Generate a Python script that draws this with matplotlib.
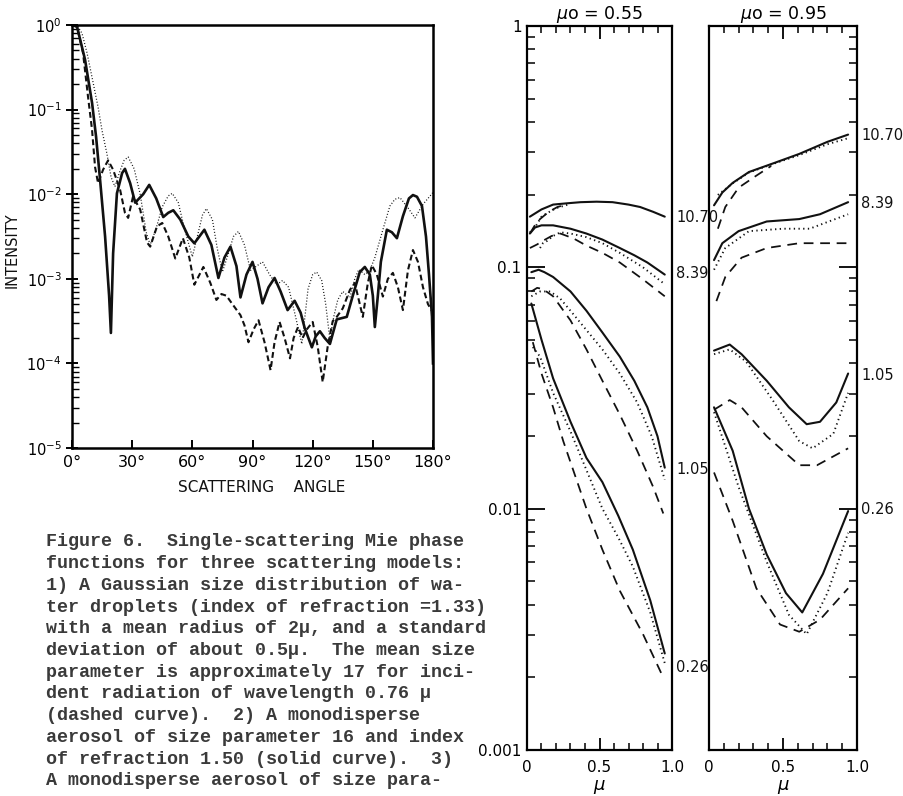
import matplotlib
matplotlib.use('Agg')
import matplotlib.pyplot as plt
from matplotlib.ticker import LogLocator, NullFormatter, FixedLocator
import numpy as np

W, H = 904, 796

# ---- left panel: phase functions (angle in deg, log10 intensity) ----
solid_pts = [(0, 0), (2.5, -0.02), (6.5, -0.41), (10, -0.92), (12, -1.32), (14, -1.83), (16.5, -2.5),
             (18.5, -3.2), (19.4, -3.64), (20.5, -2.7), (22.4, -1.99), (25, -1.75), (26.4, -1.70),
             (29, -1.87), (31.5, -2.1), (35.5, -2.0), (38.5, -1.89), (42, -2.05), (45.5, -2.27),
             (48, -2.22), (50.5, -2.19), (54, -2.3), (58, -2.5), (61, -2.58), (63.5, -2.5), (66, -2.42),
             (69.5, -2.6), (73, -2.99), (76, -2.75), (79, -2.62), (82, -2.85), (84, -3.22), (87, -2.95),
             (90, -2.8), (92.5, -3.0), (95, -3.29), (98, -3.1), (101, -2.99), (104, -3.15), (107.5, -3.37),
             (111, -3.26), (114, -3.4), (116, -3.58), (119.6, -3.81), (121.5, -3.68), (123.6, -3.62),
             (126, -3.7), (128.6, -3.77), (132, -3.48), (137, -3.45), (140, -3.2), (143.5, -2.92),
             (146, -2.86), (148.5, -2.95), (150, -3.2), (151, -3.57), (152.5, -3.2), (154, -2.8),
             (157, -2.42), (159.5, -2.45), (162, -2.52), (165, -2.26), (168, -2.05), (170, -2.01),
             (172, -2.03), (174.5, -2.14), (176.5, -2.5), (178, -2.95), (179.5, -3.45), (180, -4.0)]

dashed_pts = [(0, 0), (2.5, -0.02), (5.5, -0.33), (8, -0.85), (10, -1.24), (11.5, -1.68), (13, -1.87),
              (15.5, -1.71), (18, -1.6), (20.5, -1.71), (24, -1.95), (26.4, -2.22), (28, -2.28),
              (30.4, -2.03), (34, -2.18), (37.4, -2.57), (39, -2.62), (42.4, -2.38), (45, -2.34),
              (48, -2.5), (51.5, -2.76), (55.3, -2.52), (58.5, -2.75), (61, -3.07), (65.5, -2.86),
              (69, -3.05), (72, -3.25), (74.5, -3.18), (77, -3.2), (80, -3.3), (84, -3.43), (86, -3.55),
              (88, -3.75), (90.5, -3.6), (93, -3.49), (96, -3.75), (99, -4.08), (101, -3.75),
              (103.5, -3.51), (106, -3.7), (108.7, -3.94), (110.5, -3.7), (112.7, -3.57), (115, -3.7),
              (117, -3.6), (120, -3.51), (122.5, -3.8), (125, -4.22), (127.5, -3.8), (130, -3.5),
              (132, -3.45), (135, -3.35), (138.6, -3.13), (141, -3.05), (143, -3.25), (145, -3.45),
              (147.5, -3.05), (149.5, -2.84), (152, -2.95), (155, -3.21), (157.5, -3.0), (160, -2.93),
              (162.5, -3.1), (165, -3.37), (167.5, -2.9), (170, -2.66), (172.5, -2.8), (175, -3.1),
              (177.5, -3.3), (180, -3.4)]

dotted_pts = [(0, 0), (3, -0.02), (5, -0.1), (7.5, -0.33), (10, -0.62), (13, -0.97), (15, -1.25),
              (17.4, -1.52), (19.5, -1.8), (21.4, -1.91), (24, -1.72), (26, -1.6), (28, -1.56),
              (31, -1.7), (34, -2.0), (37, -2.45), (39, -2.6), (42, -2.4), (45, -2.15), (48, -2.02),
              (50, -1.99), (53, -2.1), (56, -2.4), (60, -2.74), (63, -2.45), (65, -2.25), (67, -2.17),
              (70, -2.3), (72.5, -2.65), (75, -2.92), (78, -2.7), (80.5, -2.5), (83, -2.44), (86, -2.6),
              (89, -2.9), (92, -2.85), (95, -2.8), (98.5, -2.95), (102, -3.07), (105, -3.02), (108, -3.1),
              (111, -3.4), (114.6, -3.77), (117.7, -3.12), (120, -2.95), (122, -2.92), (124.5, -3.02),
              (126.5, -3.3), (128.6, -3.72), (130.5, -3.45), (132.5, -3.25), (135, -3.15),
              (138.6, -3.22), (141, -3.0), (143, -2.89), (146, -2.95), (148.5, -2.9), (151, -2.75),
              (155, -2.42), (158.5, -2.14), (161, -2.06), (163.5, -2.04), (167.5, -2.16), (171, -2.28),
              (175, -2.12), (180, -1.98)]

# ---- mu0 = 0.55 panel (mu, log10 value) ----
m1070_solid = [(0.02, -0.79), (0.1, -0.76), (0.18, -0.74), (0.27, -0.735), (0.37, -0.73), (0.48, -0.728),
               (0.59, -0.73), (0.7, -0.74), (0.78, -0.75), (0.87, -0.77), (0.95, -0.79)]
m1070_dotted = [(0.02, -0.855), (0.06, -0.83), (0.1, -0.79), (0.14, -0.775), (0.2, -0.755), (0.3, -0.737)]
m1070_dashed = [(0.02, -0.86), (0.06, -0.82), (0.09, -0.80), (0.15, -0.77), (0.21, -0.75), (0.27, -0.74)]

m839_solid = [(0.02, -0.86), (0.055, -0.835), (0.1, -0.826), (0.18, -0.826), (0.3, -0.84), (0.41, -0.86),
              (0.52, -0.885), (0.64, -0.92), (0.74, -0.95), (0.83, -0.98), (0.95, -1.03)]
m839_dotted = [(0.09, -0.92), (0.11, -0.9), (0.14, -0.89), (0.18, -0.87), (0.23, -0.855), (0.3, -0.86),
               (0.41, -0.875), (0.52, -0.9), (0.64, -0.94), (0.8, -1.0), (0.95, -1.07)]
m839_dashed = [(0.02, -0.92), (0.07, -0.905), (0.11, -0.89), (0.17, -0.87), (0.23, -0.86), (0.32, -0.88),
               (0.41, -0.91), (0.52, -0.94), (0.64, -0.98), (0.8, -1.05), (0.95, -1.12)]

m105_solid = [(0.03, -1.02), (0.08, -1.01), (0.12, -1.02), (0.18, -1.04), (0.3, -1.1), (0.41, -1.18),
              (0.52, -1.27), (0.64, -1.37), (0.74, -1.47), (0.83, -1.58), (0.9, -1.7), (0.95, -1.83)]
m105_dotted = [(0.03, -1.12), (0.09, -1.10), (0.16, -1.10), (0.23, -1.13), (0.3, -1.18), (0.41, -1.26),
               (0.52, -1.34), (0.64, -1.44), (0.76, -1.56), (0.86, -1.7), (0.95, -1.88)]
m105_dashed = [(0.03, -1.10), (0.07, -1.085), (0.11, -1.09), (0.18, -1.12), (0.3, -1.22), (0.41, -1.34),
               (0.52, -1.47), (0.64, -1.61), (0.76, -1.76), (0.87, -1.91), (0.94, -2.02)]

m026_solid = [(0.03, -1.15), (0.1, -1.3), (0.18, -1.46), (0.3, -1.64), (0.41, -1.79), (0.52, -1.89),
              (0.63, -2.03), (0.73, -2.17), (0.85, -2.38), (0.95, -2.6)]
m026_dotted = [(0.04, -1.33), (0.09, -1.37), (0.18, -1.52), (0.3, -1.68), (0.41, -1.84), (0.52, -2.0),
               (0.63, -2.12), (0.73, -2.24), (0.85, -2.43), (0.95, -2.64)]
m026_dashed = [(0.04, -1.31), (0.1, -1.44), (0.18, -1.58), (0.25, -1.72), (0.41, -2.0), (0.52, -2.17),
               (0.64, -2.34), (0.8, -2.52), (0.94, -2.7)]

# ---- mu0 = 0.95 panel ----
r1070_solid = [(0.034, -0.743), (0.09, -0.69), (0.16, -0.65), (0.27, -0.605), (0.43, -0.57), (0.61, -0.53),
               (0.8, -0.48), (0.94, -0.45)]
r1070_dotted = [(0.06, -0.70), (0.16, -0.652), (0.27, -0.607), (0.43, -0.572), (0.61, -0.535), (0.8, -0.49),
                (0.94, -0.465)]
r1070_dashed = [(0.06, -0.84), (0.11, -0.75), (0.2, -0.67), (0.32, -0.62), (0.42, -0.58)]

r839_solid = [(0.034, -0.97), (0.09, -0.90), (0.2, -0.85), (0.39, -0.81), (0.61, -0.80), (0.75, -0.78),
              (0.94, -0.73)]
r839_dotted = [(0.034, -1.01), (0.11, -0.92), (0.27, -0.85), (0.5, -0.84), (0.68, -0.84), (0.94, -0.78)]
r839_dashed = [(0.05, -1.14), (0.11, -1.04), (0.22, -0.96), (0.39, -0.92), (0.61, -0.90), (0.94, -0.90)]

r105_solid = [(0.034, -1.345), (0.14, -1.32), (0.22, -1.36), (0.39, -1.47), (0.54, -1.58), (0.66, -1.65),
              (0.75, -1.64), (0.86, -1.56), (0.94, -1.44)]
r105_dotted = [(0.034, -1.36), (0.14, -1.34), (0.25, -1.39), (0.43, -1.55), (0.61, -1.72), (0.70, -1.75),
               (0.84, -1.69), (0.94, -1.52)]
r105_dashed = [(0.034, -1.59), (0.14, -1.55), (0.22, -1.58), (0.39, -1.70), (0.61, -1.82), (0.73, -1.82),
               (0.94, -1.75)]

r026_solid = [(0.034, -1.58), (0.16, -1.76), (0.27, -2.0), (0.39, -2.19), (0.52, -2.35), (0.63, -2.43),
              (0.77, -2.27), (0.94, -2.01)]
r026_dotted = [(0.034, -1.6), (0.2, -1.91), (0.39, -2.22), (0.54, -2.44), (0.66, -2.52), (0.8, -2.35),
               (0.94, -2.10)]
r026_dashed = [(0.034, -1.85), (0.16, -2.05), (0.32, -2.33), (0.48, -2.48), (0.61, -2.51), (0.75, -2.46),
               (0.94, -2.33)]

group_labels = ['10.70', '8.39', '1.05', '0.26']
mid_label_y = [218, 274, 470, 667]     # pixel rows of the side labels
right_label_y = [135, 204, 375, 510]

caption = [
    'Figure 6.  Single-scattering Mie phase',
    'functions for three scattering models:',
    '1) A Gaussian size distribution of wa-',
    'ter droplets (index of refraction =1.33)',
    'with a mean radius of 2\u00b5, and a standard',
    'deviation of about 0.5\u00b5.  The mean size',
    'parameter is approximately 17 for inci-',
    'dent radiation of wavelength 0.76 \u00b5',
    '(dashed curve).  2) A monodisperse',
    'aerosol of size parameter 16 and index',
    'of refraction 1.50 (solid curve).  3)',
    'A monodisperse aerosol of size para-',
]

INK = '#111111'
plt.rcParams['font.family'] = ['DejaVu Sans']


def box(x0, y0, x1, y1):
    return [x0 / W, 1 - y1 / H, (x1 - x0) / W, (y1 - y0) / H]


def draw(ax, pts, style, lw):
    x = [p[0] for p in pts]
    y = [10 ** p[1] for p in pts]
    if style == 'solid':
        ax.plot(x, y, color=INK, lw=lw, solid_capstyle='round', solid_joinstyle='round')
    elif style == 'dashed':
        ax.plot(x, y, color=INK, lw=lw * 0.85, dashes=(5.5, 3.8))
    else:
        ax.plot(x, y, color=INK, lw=lw * 0.9, dashes=(0.7, 1.8))


fig = plt.figure(figsize=(W / 100, H / 100), dpi=100)

# left plot
ax1 = fig.add_axes(box(72, 25, 433, 448))
ax1.set_yscale('log')
ax1.set_xlim(0, 180)
ax1.set_ylim(1e-5, 1)
ax1.plot([p[0] for p in solid_pts], [10 ** p[1] for p in solid_pts], color=INK, lw=1.9,
         solid_joinstyle='round')
ax1.plot([p[0] for p in dashed_pts], [10 ** p[1] for p in dashed_pts], color=INK, lw=1.5, dashes=(2.8, 1.6))
ax1.plot([p[0] for p in dotted_pts], [10 ** p[1] for p in dotted_pts], color=INK, lw=0.9, dashes=(0.8, 1.6))
ax1.set_xticks(range(0, 181, 30))
ax1.set_xticklabels([f'{a}\u00b0' for a in range(0, 181, 30)], fontsize=11.5)
ax1.yaxis.set_major_locator(LogLocator(base=10, numticks=10))
ax1.yaxis.set_minor_locator(LogLocator(base=10, subs=np.arange(2, 10), numticks=20))
ax1.yaxis.set_minor_formatter(NullFormatter())
ax1.tick_params(axis='y', which='major', direction='inout', length=9, width=1.4, labelsize=10.5, pad=3)
ax1.tick_params(axis='y', which='minor', direction='in', length=5, width=1.0)
ax1.tick_params(axis='x', which='major', direction='in', length=6, width=1.4, pad=5)
for s in ax1.spines.values():
    s.set_linewidth(1.8)
fig.text(12 / W, 1 - 250 / H, 'INTENSITY', rotation=90, ha='center', va='center', fontsize=10.5, color=INK)
fig.text(262 / W, 1 - 487 / H, 'SCATTERING    ANGLE', ha='center', va='center', fontsize=11, color=INK)

# right panels
ax2 = fig.add_axes(box(527, 26, 672, 750))
ax3 = fig.add_axes(box(709, 26, 857, 750))
mid_sets = [(m1070_solid, m1070_dotted, m1070_dashed), (m839_solid, m839_dotted, m839_dashed),
            (m105_solid, m105_dotted, m105_dashed), (m026_solid, m026_dotted, m026_dashed)]
right_sets = [(r1070_solid, r1070_dotted, r1070_dashed), (r839_solid, r839_dotted, r839_dashed),
              (r105_solid, r105_dotted, r105_dashed), (r026_solid, r026_dotted, r026_dashed)]

for ax, sets in [(ax2, mid_sets), (ax3, right_sets)]:
    ax.set_yscale('log')
    ax.set_xlim(0, 1)
    ax.set_ylim(1e-3, 1)
    for sol, dot, das in sets:
        draw(ax, das, 'dashed', 1.5)
        draw(ax, dot, 'dotted', 1.5)
        draw(ax, sol, 'solid', 1.5)
    ax.set_xticks([0, 0.5, 1.0])
    ax.set_xticklabels(['0', '0.5', '1.0'], fontsize=11)
    ax.xaxis.set_minor_locator(FixedLocator([0.1, 0.2, 0.3, 0.4, 0.6, 0.7, 0.8, 0.9]))
    ax.yaxis.set_major_locator(FixedLocator([1e-3, 1e-2, 1e-1, 1]))
    ax.yaxis.set_minor_locator(LogLocator(base=10, subs=np.arange(2, 10), numticks=20))
    ax.yaxis.set_minor_formatter(NullFormatter())
    ax.tick_params(axis='x', which='major', direction='in', length=9, width=1.3, top=True, bottom=True, pad=7)
    ax.tick_params(axis='x', which='minor', direction='in', length=5, width=1.1, top=True, bottom=True)
    for s in ax.spines.values():
        s.set_linewidth(1.6)
    ax.set_xlabel('$\\mu$', fontsize=13, labelpad=2)

ax2.set_yticklabels(['0.001', '0.01', '0.1', '1'], fontsize=11)
ax2.tick_params(axis='y', which='major', direction='in', length=13, width=1.3, left=True, right=False, pad=4)
ax2.tick_params(axis='y', which='minor', direction='in', length=6, width=1.1, left=True, right=False)
ax3.tick_params(axis='y', which='both', left=False, right=True, labelleft=False, direction='in')
ax3.tick_params(axis='y', which='major', length=13, width=1.3)
ax3.tick_params(axis='y', which='minor', length=6, width=1.1)

ax2.set_title('$\\mu$o = 0.55', fontsize=12.5, pad=5)
ax3.set_title('$\\mu$o = 0.95', fontsize=12.5, pad=5)

for lab, y in zip(group_labels, mid_label_y):
    fig.text(676 / W, 1 - y / H, lab, ha='left', va='center', fontsize=10.5, color=INK)
for lab, y in zip(group_labels, right_label_y):
    fig.text(861 / W, 1 - y / H, lab, ha='left', va='center', fontsize=10.5, color=INK)

# caption in typewriter face
for i, line in enumerate(caption):
    fig.text(46 / W, 1 - (542 + i * 21.7) / H, line, ha='left', va='center', fontsize=13.2,
             family=['Liberation Mono', 'DejaVu Sans Mono'], fontweight='bold', color='#3a3a3a')

fig.savefig('out.png', dpi=100)
